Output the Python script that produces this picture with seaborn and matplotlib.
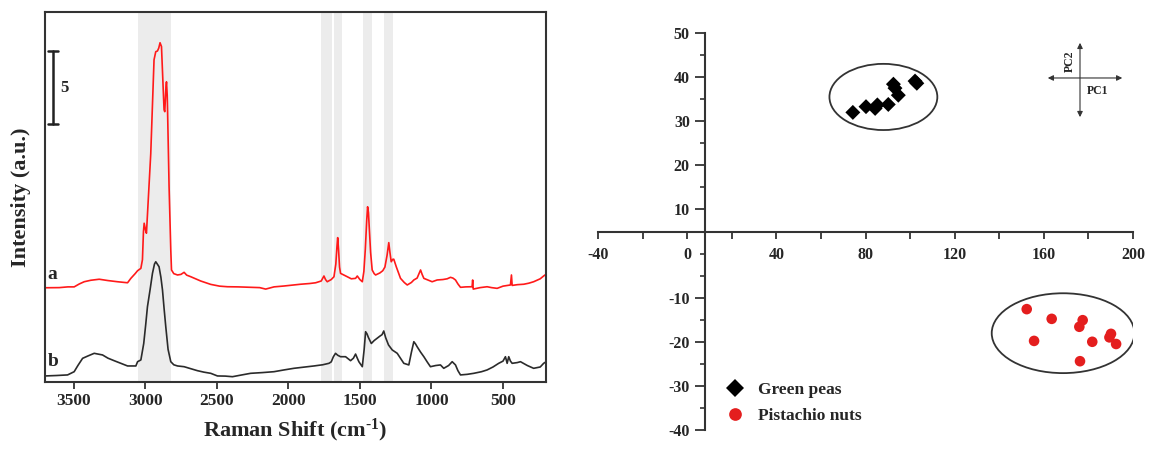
import numpy as np
import pandas as pd
import matplotlib
matplotlib.use("Agg")
import matplotlib.pyplot as plt
import seaborn as sns
from matplotlib.patches import Ellipse

# ---------------- data: Raman spectra ----------------
wn_a = [3700, 3600, 3540, 3496, 3460, 3426, 3380, 3321, 3260, 3193, 3123, 3100, 3070, 3053, 3030,
        3019, 3012, 3007, 2995, 2991, 2975, 2961, 2950, 2938, 2926, 2914, 2905, 2896, 2886, 2876,
        2868, 2863, 2855, 2851, 2846, 2844, 2833, 2821, 2816, 2800, 2774, 2750, 2728, 2710, 2681,
        2612, 2542, 2480, 2425, 2350, 2263, 2200, 2158, 2100, 2030, 1960, 1914, 1850, 1809, 1770,
        1751, 1740, 1728, 1700, 1681, 1668, 1660, 1655, 1649, 1642, 1635, 1610, 1588, 1560, 1530,
        1518, 1500, 1483, 1472, 1462, 1452, 1446, 1440, 1432, 1425, 1414, 1400, 1390, 1360, 1340,
        1325, 1310, 1298, 1290, 1281, 1270, 1263, 1245, 1216, 1190, 1169, 1140, 1123, 1100, 1085,
        1076, 1065, 1053, 1020, 995, 960, 920, 890, 867, 850, 832, 815, 797, 760, 716,
        712, 708, 660, 611, 580, 541, 500, 448, 441, 436, 400, 355, 320, 286, 240, 215, 200]
int_a = [6.39, 6.40, 6.45, 6.45, 6.65, 6.80, 6.90, 6.97, 6.88, 6.80, 6.73, 7.03, 7.35, 7.55, 7.71,
         8.3, 10.2, 10.78, 10.2, 10.1, 13.0, 15.5, 18.5, 21.9, 22.45, 22.5, 22.7, 23.06, 22.8, 20.5,
         18.5, 18.37, 20.0, 20.4, 19.5, 18.7, 13.3, 8.96, 7.6, 7.35, 7.26, 7.3, 7.44, 7.25, 7.14,
         6.85, 6.62, 6.5, 6.46, 6.45, 6.42, 6.40, 6.30, 6.45, 6.51, 6.58, 6.63, 6.68, 6.73, 6.85,
         7.19, 6.95, 6.8, 6.95, 7.14, 8.0, 9.2, 9.8, 9.0, 7.8, 7.37, 7.25, 7.14, 7.0, 7.03,
         7.19, 6.95, 6.8, 7.5, 9.0, 11.0, 11.9, 11.5, 10.0, 8.8, 7.6, 7.35, 7.26, 7.4, 7.55,
         7.8, 8.6, 9.46, 8.8, 8.16, 8.33, 8.33, 7.8, 7.03, 6.75, 6.58, 6.75, 6.92, 7.05, 7.4,
         7.6, 7.3, 7.03, 6.9, 6.8, 6.92, 6.95, 7.0, 7.1, 7.05, 6.92, 6.65, 6.42, 6.45, 6.46,
         6.92, 6.3, 6.4, 6.46, 6.4, 6.35, 6.5, 6.58, 7.26, 6.55, 6.6, 6.63, 6.7, 6.8, 7.0, 7.2, 7.3]

wn_b = [3700, 3620, 3542, 3496, 3470, 3437, 3400, 3356, 3330, 3298, 3260, 3217, 3170, 3123, 3065,
        3053, 3030, 3010, 2996, 2984, 2965, 2949, 2935, 2926, 2915, 2903, 2890, 2879, 2868, 2856,
        2840, 2821, 2800, 2774, 2728, 2680, 2635, 2590, 2542, 2495, 2440, 2390, 2330, 2263, 2180,
        2100, 2030, 1961, 1900, 1821, 1760, 1716, 1700, 1685, 1670, 1655, 1635, 1600, 1565, 1545,
        1530, 1518, 1507, 1483, 1470, 1460, 1450, 1440, 1420, 1400, 1380, 1360, 1345, 1333, 1320,
        1300, 1274, 1239, 1193, 1158, 1140, 1123, 1110, 1100, 1075, 1053, 1030, 1007, 970, 937,
        914, 880, 855, 832, 815, 797, 750, 704, 650, 611, 570, 530, 500, 483, 471,
        460, 448, 436, 400, 378, 330, 286, 240, 216, 200]
int_b = [0.39, 0.42, 0.46, 0.68, 1.1, 1.59, 1.75, 1.93, 1.88, 1.82, 1.6, 1.43, 1.25, 1.07, 1.07,
         1.36, 1.48, 2.6, 3.9, 5.1, 6.3, 7.37, 8.0, 8.16, 8.0, 7.82, 7.1, 6.24, 5.0, 3.74,
         2.2, 1.36, 1.15, 1.07, 1.02, 0.88, 0.75, 0.65, 0.57, 0.39, 0.38, 0.34, 0.45, 0.57, 0.62,
         0.68, 0.8, 0.91, 0.98, 1.07, 1.15, 1.25, 1.35, 1.7, 1.93, 1.8, 1.7, 1.7, 1.43, 1.6,
         1.88, 1.6, 1.36, 1.02, 2.2, 3.4, 3.25, 3.0, 2.6, 2.8, 2.95, 3.1, 3.2, 3.45, 3.0,
         2.5, 2.16, 1.93, 1.25, 1.14, 2.0, 2.72, 2.55, 2.38, 2.0, 1.7, 1.35, 1.02, 1.1, 1.14,
         0.91, 1.1, 1.36, 1.14, 0.75, 0.46, 0.5, 0.57, 0.68, 0.8, 1.0, 1.25, 1.4, 1.7, 1.25,
         1.7, 1.4, 1.25, 1.3, 1.36, 1.1, 0.91, 1.0, 1.25, 1.35]

band_lo = [2816, 1693, 1623, 1415, 1267]
band_hi = [3053, 1769, 1681, 1476, 1333]
x_ticks_left = [3500, 3000, 2500, 2000, 1500, 1000, 500]
scale_bar = 5

# ---------------- data: PCA scores ----------------
pc1_peas = [74.3, 80.2, 84.3, 85.3, 90.2, 92.5, 93.2, 94.7, 102.2, 103.0]
pc2_peas = [32.0, 33.3, 32.9, 33.7, 33.8, 38.4, 37.5, 35.9, 39.1, 38.6]
pc1_pist = [152.3, 163.5, 177.4, 175.9, 155.6, 181.7, 190.1, 189.4, 192.4, 176.2]
pc2_pist = [-12.6, -14.8, -15.1, -16.6, -19.8, -20.0, -18.2, -19.0, -20.5, -24.4]
groups = ["Green peas", "Pistachio nuts"]
ell_center = [(88.0, 35.5), (168.6, -18.05)]
ell_size = [(48.4, 15.0), (64.0, 18.1)]
x_ticks_right = [-40, 0, 40, 80, 120, 160, 200]
y_ticks_right = [-40, -30, -20, -10, 10, 20, 30, 40, 50]

# ---------------- style ----------------
sns.set_theme(style="white")
plt.rcParams["font.family"] = ["Liberation Serif", "DejaVu Serif"]
plt.rcParams["font.weight"] = "bold"
plt.rcParams["mathtext.fontset"] = "custom"
plt.rcParams["mathtext.rm"] = "Liberation Serif:bold"
plt.rcParams["mathtext.default"] = "rm"

fig = plt.figure(figsize=(11.53, 4.5), dpi=100)
ax1 = fig.add_axes([0.039, 0.1518, 0.4345, 0.8215])
ax2 = fig.add_axes([0.5187, 0.0444, 0.464, 0.8823])

# ---------------- left: spectra ----------------
for lo, hi in zip(band_lo, band_hi):
    ax1.axvspan(lo, hi, color="#ececec", lw=0, zorder=0)
spec = pd.DataFrame({"wn": wn_a, "I": int_a})
specb = pd.DataFrame({"wn": wn_b, "I": int_b})
sns.lineplot(data=spec, x="wn", y="I", ax=ax1, color="#ff1a1a", lw=1.2, sort=False, estimator=None)
sns.lineplot(data=specb, x="wn", y="I", ax=ax1, color="#2b2b2b", lw=1.2, sort=False, estimator=None)
ax1.set_xlim(3700, 200)
ax1.set_ylim(0, 25.15)
ax1.set_yticks([])
ax1.set_xticks(x_ticks_left)
ax1.set_xticklabels([str(t) for t in x_ticks_left], fontsize=12.5, fontweight="bold")
ax1.tick_params(axis="x", direction="out", length=5, width=1.3, bottom=True, color="#333", pad=3)
for s in ax1.spines.values():
    s.set_color("#333")
    s.set_linewidth(1.5)
ax1.set_xlabel(r"Raman Shift (cm$^{\text{-1}}$)", fontsize=16, fontweight="bold", labelpad=6)
ax1.set_ylabel("Intensity (a.u.)", fontsize=16, fontweight="bold", labelpad=10)
# scale bar
ax1.plot([3646, 3646], [17.5, 17.5 + scale_bar], color="#222", lw=1.8)
ax1.plot([3681, 3611], [17.5, 17.5], color="#222", lw=1.8)
ax1.plot([3681, 3611], [17.5 + scale_bar, 17.5 + scale_bar], color="#222", lw=1.8)
ax1.text(3590, 20.0, str(scale_bar), fontsize=12, fontweight="bold", ha="left", va="center")
ax1.text(3650, 7.3, "a", fontsize=14, fontweight="bold", ha="center", va="center")
ax1.text(3640, 1.4, "b", fontsize=14, fontweight="bold", ha="center", va="center")

# ---------------- right: PCA ----------------
df = pd.DataFrame({
    "PC1": pc1_peas + pc1_pist,
    "PC2": pc2_peas + pc2_pist,
    "group": [groups[0]] * len(pc1_peas) + [groups[1]] * len(pc1_pist),
})
sns.scatterplot(data=df, x="PC1", y="PC2", hue="group", style="group",
                palette={groups[0]: "black", groups[1]: "#e41e1e"},
                markers={groups[0]: "D", groups[1]: "o"},
                s=58, linewidth=0, ax=ax2, zorder=3)
for (cx, cy), (w, h) in zip(ell_center, ell_size):
    ax2.add_patch(Ellipse((cx, cy), w, h, fill=False, ec="#333", lw=1.3, zorder=2))

ax2.set_xlim(-40, 200)
ax2.set_ylim(-40, 50)
ax2.spines["left"].set_position(("data", 8))
ax2.spines["bottom"].set_position(("data", 5))
ax2.spines["top"].set_visible(False)
ax2.spines["right"].set_visible(False)
for k in ("left", "bottom"):
    ax2.spines[k].set_color("#333")
    ax2.spines[k].set_linewidth(1.5)
ax2.set_xticks(x_ticks_right)
ax2.set_xticklabels([str(t) for t in x_ticks_right], fontsize=11.5, fontweight="bold")
ax2.set_xticks([-20, 20, 60, 100, 140, 180], minor=True)
ax2.set_yticks(y_ticks_right)
ax2.set_yticklabels([str(t) for t in y_ticks_right], fontsize=11.5, fontweight="bold")
ax2.set_yticks([-35, -25, -15, -5, 0, 15, 25, 35, 45], minor=True)
ax2.tick_params(axis="x", which="both", direction="out", length=5, width=1.3, color="#333",
                bottom=True, pad=6)
ax2.tick_params(axis="y", which="major", direction="out", length=7, width=1.3, color="#333",
                left=True, pad=4)
ax2.tick_params(axis="y", which="minor", direction="out", length=3.5, width=1.2, color="#333",
                left=True)
ax2.set_xlabel("")
ax2.set_ylabel("")
leg = ax2.legend(loc="lower left", bbox_to_anchor=(0.195, -0.025), frameon=False,
                 prop={"family": "Liberation Serif", "weight": "bold", "size": 12.5},
                 handletextpad=0.3, labelspacing=0.6, markerscale=1.2)

# PC direction arrows
ax2.annotate("", xy=(196.4, 39.8), xytext=(160.5, 39.8),
             arrowprops=dict(arrowstyle="<|-|>", color="#333", lw=0.8, mutation_scale=8))
ax2.annotate("", xy=(176.2, 48.4), xytext=(176.2, 30.3),
             arrowprops=dict(arrowstyle="<|-|>", color="#333", lw=0.8, mutation_scale=8))
ax2.text(171.5, 43.6, "PC2", rotation=90, fontsize=8.5, fontweight="bold", ha="center", va="center")
ax2.text(184.3, 36.8, "PC1", fontsize=8.5, fontweight="bold", ha="center", va="center")

fig.savefig("out.png", dpi=100)
